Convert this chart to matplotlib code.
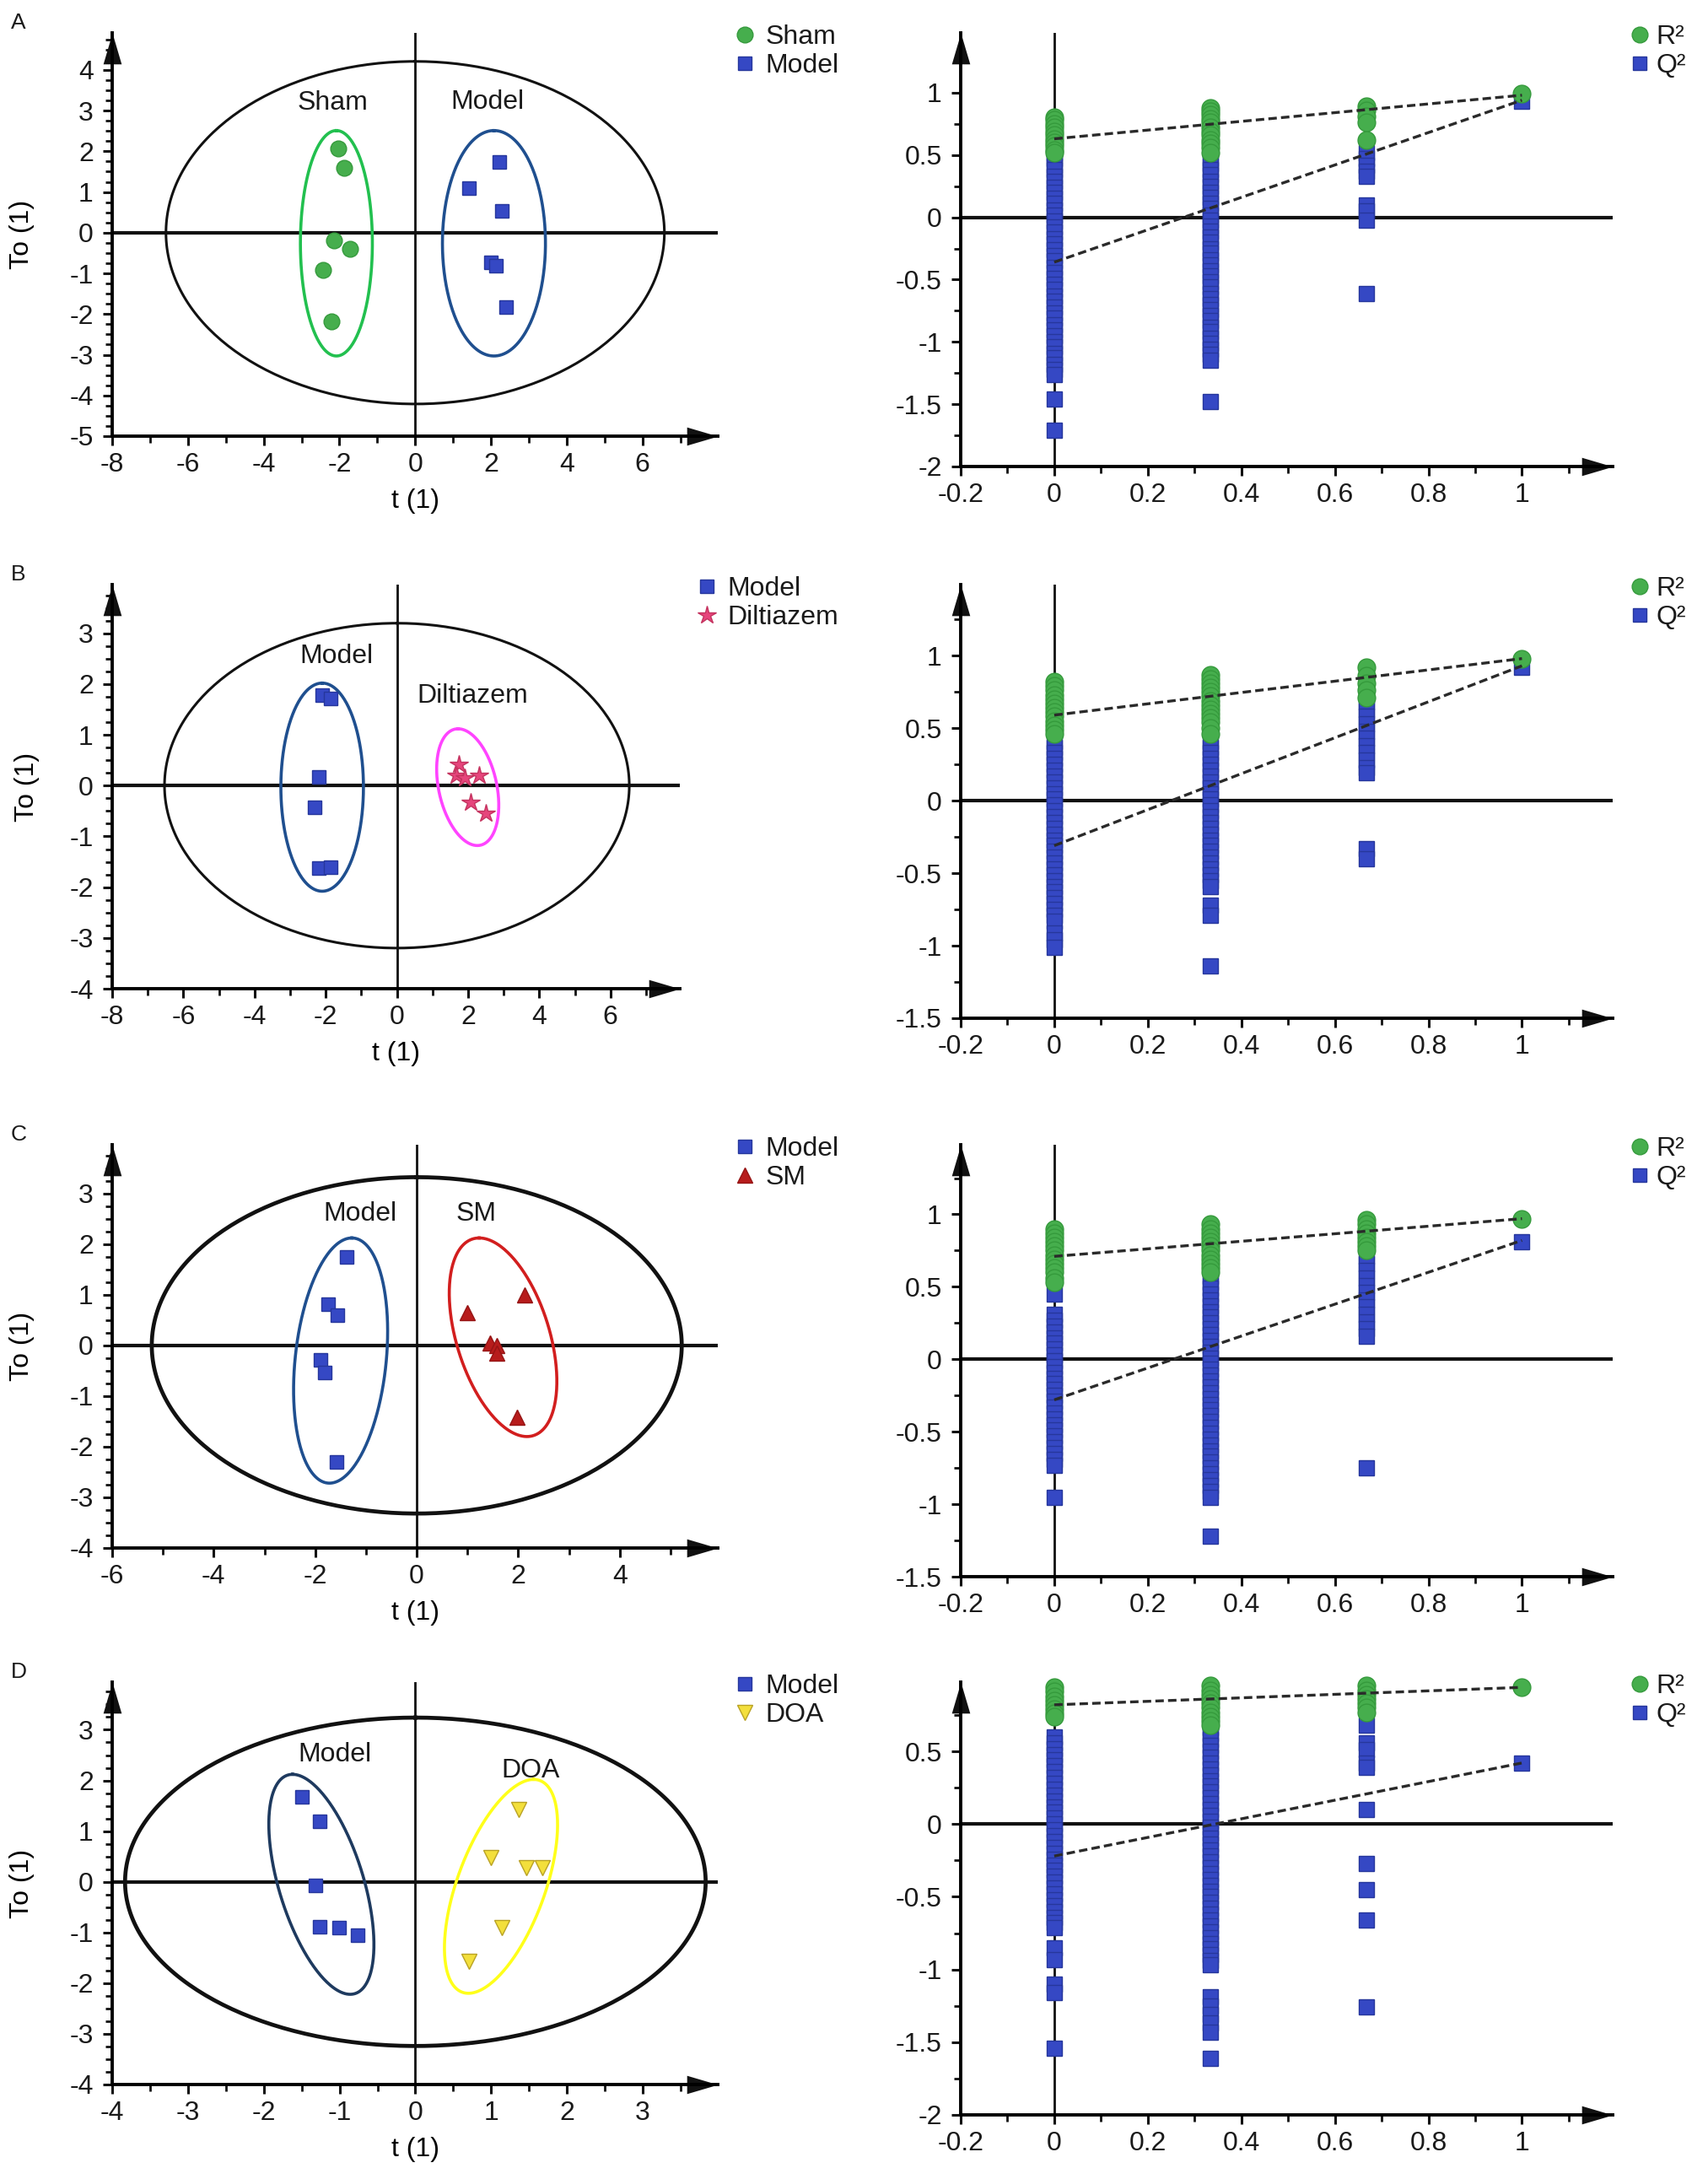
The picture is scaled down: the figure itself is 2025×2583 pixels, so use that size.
import numpy as np
import matplotlib
matplotlib.use("Agg")
import matplotlib.pyplot as plt
from matplotlib.lines import Line2D
from matplotlib.ticker import MultipleLocator, FuncFormatter

plt.rcParams['font.family'] = ['Liberation Sans', 'DejaVu Sans']
plt.rcParams['axes.unicode_minus'] = False
plt.rcParams['text.color'] = '#1a1a1a'

W, H = 2025, 2583

# ---------------- OPLS-DA score plots (left column) ----------------
a_sham_t = [-2.03, -1.87, -2.14, -1.71, -2.43, -2.21]
a_sham_to = [2.08, 1.60, -0.18, -0.39, -0.92, -2.19]
a_model_t = [2.23, 1.41, 2.29, 2.00, 2.14, 2.40]
a_model_to = [1.73, 1.10, 0.54, -0.73, -0.81, -1.83]

b_model_t = [-2.10, -1.85, -2.20, -2.32, -2.20, -1.85]
b_model_to = [1.79, 1.71, 0.17, -0.42, -1.63, -1.61]
b_dil_t = [1.75, 1.68, 1.90, 2.32, 2.07, 2.50]
b_dil_to = [0.42, 0.20, 0.15, 0.20, -0.33, -0.55]

c_model_t = [-1.38, -1.74, -1.57, -1.89, -1.81, -1.58]
c_model_to = [1.75, 0.82, 0.60, -0.29, -0.54, -2.30]
c_sm_t = [0.99, 2.13, 1.44, 1.57, 1.57, 1.97]
c_sm_to = [0.65, 0.99, 0.05, 0.00, -0.15, -1.42]

d_model_t = [-1.50, -1.26, -1.32, -1.26, -1.01, -0.76]
d_model_to = [1.68, 1.20, -0.07, -0.89, -0.91, -1.05]
d_doa_t = [1.36, 1.00, 1.46, 1.68, 1.14, 0.71]
d_doa_to = [1.43, 0.48, 0.28, 0.28, -0.90, -1.57]

# confidence ellipses: centre, top-tip offset, half width at centre height
a_hotelling = [(0, 0), (0, 4.21), 6.58]
a_sham_ell = [(-2.08, -0.26), (0, 2.77), 0.95]
a_model_ell = [(2.08, -0.26), (0, 2.77), 1.36]
b_hotelling = [(0, 0), (0, 3.20), 6.53]
b_model_ell = [(-2.10, -0.03), (0, 2.05), 1.16]
b_dil_ell = [(1.99, -0.03), (-0.27, 1.15), 0.83]
c_hotelling = [(0, 0), (0, 3.32), 5.22]
c_model_ell = [(-1.50, -0.30), (0.22, 2.42), 0.90]
c_sm_ell = [(1.70, 0.16), (-0.47, 1.96), 0.95]
d_hotelling = [(0, 0), (0, 3.24), 3.83]
d_model_ell = [(-1.24, -0.05), (-0.38, 2.17), 0.58]
d_doa_ell = [(1.13, -0.09), (0.43, 2.11), 0.61]

# ---------------- permutation tests (right column) ----------------
perm_x = [0, 0.333, 0.667, 1]

a_r2 = [[0.80, 0.78, 0.75, 0.72, 0.69, 0.66, 0.63, 0.60, 0.57, 0.54, 0.52],
        [0.88, 0.85, 0.82, 0.79, 0.76, 0.72, 0.69, 0.66, 0.62, 0.59, 0.56, 0.52],
        [0.89, 0.86, 0.81, 0.76, 0.62],
        [0.99]]
a_q2 = [[0.55, 0.51, 0.47, 0.42, 0.38, 0.33, 0.29, 0.24, 0.20, 0.15, 0.11, 0.06, 0.02,
         -0.03, -0.08, -0.12, -0.17, -0.21, -0.26, -0.31, -0.35, -0.40, -0.44, -0.49,
         -0.54, -0.58, -0.63, -0.67, -0.72, -0.77, -0.81, -0.86, -0.90, -0.95, -1.00,
         -1.04, -1.09, -1.13, -1.18, -1.22, -1.26, -1.46, -1.71],
        [0.47, 0.43, 0.38, 0.34, 0.29, 0.25, 0.20, 0.16, 0.11, 0.07, 0.02, -0.02, -0.07,
         -0.11, -0.16, -0.20, -0.25, -0.29, -0.34, -0.38, -0.43, -0.47, -0.52, -0.56,
         -0.61, -0.65, -0.70, -0.74, -0.79, -0.83, -0.88, -0.92, -0.97, -1.01, -1.06,
         -1.10, -1.15, -1.48],
        [0.52, 0.47, 0.42, 0.37, 0.33, 0.10, 0.05, -0.02, -0.61],
        [0.93]]
a_r2_line = [0.63, 0.98]
a_q2_line = [-0.36, 0.94]

b_r2 = [[0.82, 0.79, 0.76, 0.73, 0.70, 0.67, 0.64, 0.61, 0.58, 0.55, 0.52, 0.49, 0.46],
        [0.87, 0.84, 0.81, 0.78, 0.75, 0.72, 0.69, 0.66, 0.63, 0.60, 0.57, 0.54, 0.50, 0.46],
        [0.92, 0.86, 0.81, 0.76, 0.71],
        [0.98]]
b_q2 = [[0.41, 0.37, 0.33, 0.29, 0.25, 0.21, 0.17, 0.13, 0.09, 0.05, 0.01, -0.03, -0.07,
         -0.11, -0.15, -0.19, -0.23, -0.27, -0.31, -0.35, -0.39, -0.43, -0.47, -0.51,
         -0.55, -0.59, -0.63, -0.67, -0.71, -0.75, -0.79, -0.83, -0.91, -0.96, -1.01],
        [0.41, 0.37, 0.33, 0.29, 0.25, 0.21, 0.17, 0.13, 0.09, 0.05, 0.01, -0.03, -0.07,
         -0.11, -0.15, -0.19, -0.23, -0.27, -0.31, -0.35, -0.39, -0.43, -0.47, -0.51,
         -0.55, -0.59, -0.72, -0.79, -1.14],
        [0.68, 0.63, 0.58, 0.53, 0.48, 0.43, 0.38, 0.33, 0.28, 0.23, 0.19, -0.33, -0.40],
        [0.92]]
b_r2_line = [0.59, 0.98]
b_q2_line = [-0.31, 0.93]

c_r2 = [[0.90, 0.87, 0.84, 0.81, 0.78, 0.75, 0.72, 0.69, 0.66, 0.63, 0.60, 0.56, 0.53],
        [0.93, 0.90, 0.87, 0.84, 0.81, 0.78, 0.75, 0.72, 0.69, 0.66, 0.63, 0.60],
        [0.96, 0.93, 0.90, 0.87, 0.84, 0.81, 0.78, 0.75],
        [0.97]]
c_q2 = [[0.45, 0.31, 0.27, 0.23, 0.19, 0.15, 0.11, 0.07, 0.03, -0.01, -0.05, -0.09, -0.13,
         -0.17, -0.21, -0.25, -0.29, -0.33, -0.37, -0.41, -0.45, -0.49, -0.53, -0.57,
         -0.61, -0.65, -0.69, -0.73, -0.95],
        [0.57, 0.53, 0.49, 0.45, 0.41, 0.37, 0.33, 0.29, 0.25, 0.21, 0.17, 0.13, 0.09,
         0.05, 0.01, -0.03, -0.07, -0.11, -0.15, -0.19, -0.23, -0.27, -0.31, -0.35,
         -0.39, -0.43, -0.47, -0.51, -0.55, -0.59, -0.63, -0.67, -0.71, -0.75, -0.79,
         -0.83, -0.87, -0.91, -0.95, -1.22],
        [0.71, 0.66, 0.61, 0.56, 0.51, 0.46, 0.41, 0.36, 0.31, 0.26, 0.21, 0.16, -0.75],
        [0.81]]
c_r2_line = [0.71, 0.97]
c_q2_line = [-0.28, 0.82]

d_r2 = [[0.94, 0.91, 0.88, 0.85, 0.82, 0.79, 0.76, 0.74],
        [0.95, 0.92, 0.89, 0.86, 0.83, 0.80, 0.77, 0.74, 0.71, 0.68],
        [0.95, 0.92, 0.89, 0.86, 0.83, 0.80, 0.77],
        [0.94]]
d_q2 = [[0.60, 0.56, 0.52, 0.48, 0.44, 0.40, 0.36, 0.32, 0.28, 0.24, 0.20, 0.16, 0.12,
         0.08, 0.04, 0.00, -0.04, -0.08, -0.12, -0.16, -0.20, -0.24, -0.28, -0.32,
         -0.36, -0.40, -0.44, -0.48, -0.52, -0.56, -0.60, -0.64, -0.68, -0.71, -0.85,
         -0.93, -1.10, -1.16, -1.54],
        [0.70, 0.66, 0.62, 0.58, 0.54, 0.50, 0.46, 0.42, 0.38, 0.34, 0.30, 0.26, 0.22,
         0.18, 0.14, 0.10, 0.06, 0.02, -0.02, -0.06, -0.10, -0.14, -0.18, -0.22, -0.26,
         -0.30, -0.34, -0.38, -0.42, -0.46, -0.50, -0.54, -0.58, -0.62, -0.66, -0.70,
         -0.74, -0.78, -0.82, -0.86, -0.90, -0.94, -0.97, -1.19, -1.25, -1.31, -1.37,
         -1.43, -1.61],
        [0.68, 0.56, 0.51, 0.42, 0.39, 0.10, -0.27, -0.45, -0.66, -1.26],
        [0.42]]
d_r2_line = [0.82, 0.94]
d_q2_line = [-0.22, 0.42]

GREEN, GREEN_EDGE = '#46ae4d', '#359a3c'
BLUE, BLUE_EDGE = '#3548c4', '#26379c'
STYLE = {
    'Sham': dict(marker='o', ms=13.5, mfc=GREEN, mec=GREEN_EDGE),
    'Model': dict(marker='s', ms=12, mfc=BLUE, mec=BLUE_EDGE),
    'Diltiazem': dict(marker='*', ms=16, mfc='#e6457c', mec='#c4335f'),
    'SM': dict(marker='^', ms=12.5, mfc='#b71c1c', mec='#951414'),
    'DOA': dict(marker='v', ms=13.5, mfc='#f3df3c', mec='#b9a224'),
}
PERM_R2 = dict(marker='o', ms=15, mfc=GREEN, mec=GREEN_EDGE)
PERM_Q2 = dict(marker='s', ms=13.5, mfc=BLUE, mec=BLUE_EDGE)
UP = [(0, 0), (-0.5, -1.7), (0.5, -1.7)]
RIGHT = [(0, 0), (-1.7, 0.5), (-1.7, -0.5)]
FS = 23


def add_ax(box):
    l, t, r, b = box
    return fig.add_axes([l / W, 1 - b / H, (r - l) / W, (b - t) / H])


def frame(ax, xlim, ylim, xmaj, xmin, ymaj, ymin):
    ax.set_xlim(*xlim)
    ax.set_ylim(*ylim)
    ax.spines['top'].set_visible(False)
    ax.spines['right'].set_visible(False)
    for s in ['left', 'bottom']:
        ax.spines[s].set_linewidth(2.8)
    ax.xaxis.set_major_locator(MultipleLocator(xmaj))
    ax.xaxis.set_minor_locator(MultipleLocator(xmin))
    ax.yaxis.set_major_locator(MultipleLocator(ymaj))
    ax.yaxis.set_minor_locator(MultipleLocator(ymin))
    fmt = FuncFormatter(lambda v, p: '%g' % round(v, 3))
    ax.xaxis.set_major_formatter(fmt)
    ax.yaxis.set_major_formatter(fmt)
    ax.tick_params(which='major', direction='out', length=8, width=2.2,
                   labelsize=FS, color='#111111', labelcolor='#1a1a1a')
    ax.tick_params(axis='x', which='major', pad=6)
    ax.tick_params(axis='y', which='major', pad=8)
    ax.tick_params(which='minor', direction='out', length=6, width=2.0, color='#111111')
    ax.axhline(0, color='#111111', lw=3.0, zorder=2)
    ax.axvline(0, color='#111111', lw=2.0, zorder=2)
    ax.plot([0], [1], marker=UP, ms=53, color='#111111', mew=0,
            transform=ax.transAxes, clip_on=False)
    ax.plot([1], [0], marker=RIGHT, ms=53, color='#111111', mew=0,
            transform=ax.transAxes, clip_on=False)


def ellipse(ax, ell, color, lw):
    (cx, cy), (dx, dy), w = ell
    th = np.linspace(0, 2 * np.pi, 300)
    ax.plot(cx + np.cos(th) * dx + np.sin(th) * w, cy + np.cos(th) * dy,
            color=color, lw=lw, zorder=2.5)


def put_legend(ax, handles, names, box, tpad):
    l, t, r, b = box
    ax.legend(handles, names, loc='upper left',
              bbox_to_anchor=((r + 18) / W, 1 - (t - 10) / H),
              bbox_transform=fig.transFigure, frameon=False, fontsize=FS,
              borderpad=0, borderaxespad=0, handlelength=0.9,
              handletextpad=tpad, labelspacing=0.14)


fig = plt.figure(figsize=(W / 100, H / 100), dpi=100)

score_panels = [
    dict(letter='A', box=(133, 39, 851, 517), xlim=(-8, 7.99), ylim=(-5, 4.91), xmaj=2, xmin=1,
         groups=[('Sham', a_sham_t, a_sham_to, a_sham_ell, '#22c04f', (-2.17, 3.18)),
                 ('Model', a_model_t, a_model_to, a_model_ell, '#1f4f8f', (1.9, 3.22))],
         hot=a_hotelling, hot_lw=2.2),
    dict(letter='B', box=(133, 693, 806, 1172), xlim=(-8, 7.95), ylim=(-4, 3.96), xmaj=2, xmin=1,
         groups=[('Model', b_model_t, b_model_to, b_model_ell, '#1f4f8f', (-1.70, 2.54)),
                 ('Diltiazem', b_dil_t, b_dil_to, b_dil_ell, '#ff44ff', (2.13, 1.76))],
         hot=b_hotelling, hot_lw=2.2),
    dict(letter='C', box=(133, 1357, 851, 1835), xlim=(-6, 5.93), ylim=(-4, 3.96), xmaj=2, xmin=1,
         groups=[('Model', c_model_t, c_model_to, c_model_ell, '#1f4f8f', (-1.12, 2.59)),
                 ('SM', c_sm_t, c_sm_to, c_sm_ell, '#d21e1e', (1.17, 2.59))],
         hot=c_hotelling, hot_lw=3.4),
    dict(letter='D', box=(133, 1994, 851, 2471), xlim=(-4, 3.99), ylim=(-4, 3.94), xmaj=1, xmin=0.5,
         groups=[('Model', d_model_t, d_model_to, d_model_ell, '#1e3a5f', (-1.06, 2.51)),
                 ('DOA', d_doa_t, d_doa_to, d_doa_ell, '#ffff1a', (1.52, 2.20))],
         hot=d_hotelling, hot_lw=3.4),
]

perm_panels = [
    dict(box=(1139, 39, 1912, 553), ylim=(-2, 1.48), r2=a_r2, q2=a_q2, r2l=a_r2_line, q2l=a_q2_line),
    dict(box=(1139, 693, 1912, 1207), ylim=(-1.5, 1.49), r2=b_r2, q2=b_q2, r2l=b_r2_line, q2l=b_q2_line),
    dict(box=(1139, 1357, 1912, 1869), ylim=(-1.5, 1.48), r2=c_r2, q2=c_q2, r2l=c_r2_line, q2l=c_q2_line),
    dict(box=(1139, 1994, 1912, 2507), ylim=(-2, 0.976), r2=d_r2, q2=d_q2, r2l=d_r2_line, q2l=d_q2_line),
]

for p in score_panels:
    ax = add_ax(p['box'])
    frame(ax, p['xlim'], p['ylim'], p['xmaj'], p['xmin'], 1, 0.25)
    ellipse(ax, p['hot'], '#111111', p['hot_lw'])
    for name, tx, ty, ell, col, lab in p['groups']:
        ellipse(ax, ell, col, 2.6)
        ax.plot(tx, ty, ls='none', zorder=3, **STYLE[name])
        ax.text(lab[0], lab[1], name, fontsize=FS, ha='center', va='center')
    ax.set_xlabel('t (1)', fontsize=FS)
    ax.set_ylabel('To (1)', fontsize=FS)
    ax.xaxis.set_label_coords(0.5, -0.13)
    ax.yaxis.set_label_coords(-0.128, 0.5)
    names = [g[0] for g in p['groups']]
    put_legend(ax, [Line2D([], [], ls='none', **STYLE[n]) for n in names], names, p['box'], 0.3)
    l, t, r, b = p['box']
    fig.text(22 / W, 1 - (t - 12) / H, p['letter'], fontsize=19, ha='center', va='center')

for p in perm_panels:
    ax = add_ax(p['box'])
    frame(ax, (-0.2, 1.194), p['ylim'], 0.2, 0.1, 0.5, 0.25)
    for x, vals in zip(perm_x, p['q2']):
        ax.plot([x] * len(vals), vals, ls='none', zorder=3, clip_on=False, **PERM_Q2)
    for x, vals in zip(perm_x, p['r2']):
        ax.plot([x] * len(vals), vals, ls='none', zorder=3.5, clip_on=False, **PERM_R2)
    ax.plot([0, 1], p['r2l'], ls=(0, (3, 1.5)), color='#2a2a2a', lw=2.4, zorder=4)
    ax.plot([0, 1], p['q2l'], ls=(0, (3, 1.5)), color='#2a2a2a', lw=2.4, zorder=4)
    handles = [Line2D([], [], ls='none', **STYLE['Sham']),
               Line2D([], [], ls='none', **STYLE['Model'])]
    put_legend(ax, handles, ['R²', 'Q²'], p['box'], 0.15)

fig.savefig('out.png', dpi=100, facecolor='white')
